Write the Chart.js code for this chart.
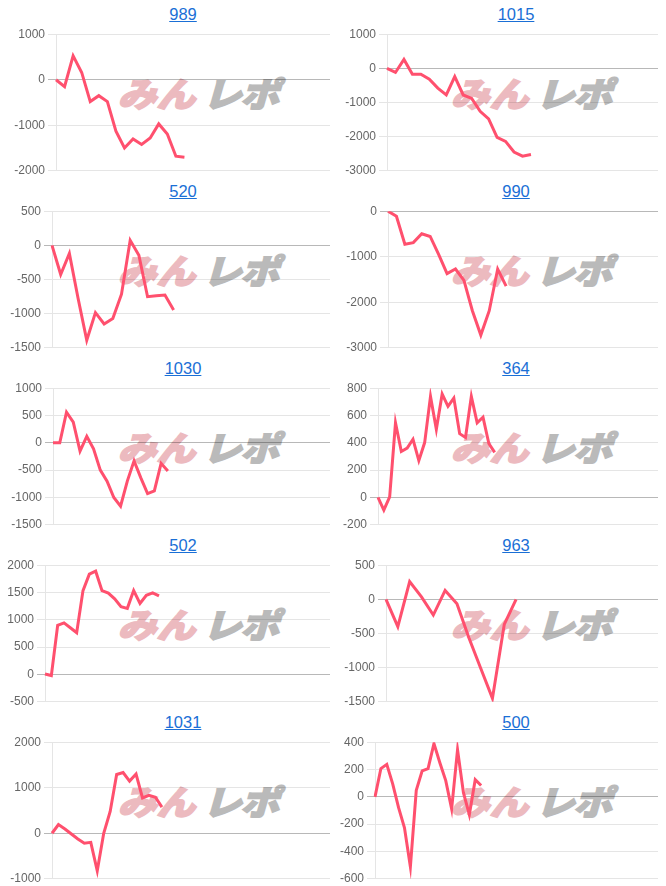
<!DOCTYPE html>
<html>
<head>
<meta charset="utf-8">
<script src="https://cdn.jsdelivr.net/npm/chart.js@4.4.0/dist/chart.umd.min.js"></script>
<style>
  html, body { margin: 0; padding: 0; background: #fff; }
  body { width: 666px; height: 886px; overflow: hidden; font-family: "Liberation Sans", Arial, sans-serif; }
  #grid { position: relative; width: 666px; height: 886px; }
  .cell { position: absolute; width: 333px; height: 177px; }
  .title { position: absolute; top: 0; left: 33px; width: 300px; height: 20px; line-height: 20px; text-align: center; font-size: 16.5px; }
  .title a { color: #1a6fd6; text-decoration: underline; }
  .cv { position: absolute; left: 0; top: 20px; width: 333px; height: 157px; z-index: 2; }
  .wm { position: absolute; top: 69px; font-family: "Noto Sans CJK JP", sans-serif; font-weight: 900; font-size: 34px; line-height: 40px; white-space: nowrap; pointer-events: none; transform: skewX(-16deg) scaleX(1.14); transform-origin: left bottom; z-index: 1; }
  .wm1 { left: 116px; color: rgb(236,186,191); -webkit-text-stroke: 1.6px rgb(236,186,191); }
  .wm2 { left: 201px; color: rgb(186,186,186); -webkit-text-stroke: 1.6px rgb(186,186,186); letter-spacing: -1px; }
</style>
</head>
<body>
<div id="grid"></div>
<script>
// ---- data ----
const titles = ["989", "1015", "520", "990", "1030", "364", "502", "963", "1031", "500"];

const s989  = [0, -150, 525, 160, -480, -350, -480, -1130, -1500, -1300, -1420, -1280, -970, -1190, -1680, -1700];
const s1015 = [0, -120, 260, -175, -175, -320, -580, -780, -240, -780, -880, -1260, -1480, -2020, -2140, -2450, -2570, -2520];
const s520  = [0, -427, -120, -775, -1390, -985, -1150, -1070, -715, 73, -145, -752, -738, -728, -947];
const s990  = [0, -110, -725, -690, -495, -555, -950, -1370, -1270, -1520, -2185, -2720, -2185, -1270, -1645];
const s1030 = [0, 0, 560, 380, -150, 120, -110, -500, -700, -1000, -1160, -700, -330, -640, -930, -880, -375, -515];
const s364  = [0, -92, 5, 547, 337, 361, 426, 270, 402, 740, 499, 757, 667, 728, 467, 439, 740, 547, 588, 395, 330];
const s502  = [10, -20, 900, 945, 855, 765, 1535, 1835, 1890, 1535, 1490, 1385, 1240, 1210, 1535, 1300, 1450, 1495, 1440];
const s963  = [0, -400, 260, 35, -230, 130, -63, -560, -1005, -1450, -367, 0];
const s1031 = [0, 190, 95, -15, -125, -220, -200, -825, 0, 480, 1290, 1335, 1145, 1300, 775, 835, 790, 575];
const s500  = [0, 207, 238, 95, -79, -226, -512, 48, 190, 207, 390, 250, 119, -88, 345, 31, -131, 126, 83];

const seriesList = [s989, s1015, s520, s990, s1030, s364, s502, s963, s1031, s500];

// number of x categories in each chart's period
const periodLengths = [33, 33, 33, 33, 42, 49, 46, 24, 44, 49];

// y-axis tick ranges
const yMins  = [-2000, -3000, -1500, -3000, -1500, -200, -500, -1500, -1000, -600];
const yMaxs  = [1000, 1000, 500, 0, 1000, 800, 2000, 500, 2000, 400];
const ySteps = [1000, 1000, 500, 1000, 500, 200, 500, 500, 1000, 200];

// ---- layout (not data) ----
const axisWidths = [56, 54, 52, 55, 53, 45, 45, 53, 52, 42];
const rowPitch = 177, firstTop = 4;

const grid = document.getElementById('grid');
titles.forEach((t, i) => {
  const col = i % 2, row = Math.floor(i / 2);
  const cell = document.createElement('div');
  cell.className = 'cell';
  cell.style.left = (col * 333) + 'px';
  cell.style.top = (firstTop + row * rowPitch) + 'px';
  cell.innerHTML =
    '<div class="title"><a href="#">' + t + '</a></div>' +
    '<span class="wm wm1">みん</span><span class="wm wm2">レポ</span>' +
    '<div class="cv"><canvas></canvas></div>';
  grid.appendChild(cell);

  const labels = Array.from({ length: periodLengths[i] }, (_, k) => String(k + 1));
  const axisW = axisWidths[i];
  new Chart(cell.querySelector('canvas'), {
    type: 'line',
    data: {
      labels: labels,
      datasets: [{
        data: seriesList[i],
        borderColor: 'rgb(255, 80, 110)',
        backgroundColor: 'rgba(255, 80, 110, 0.2)',
        borderWidth: 3,
        pointRadius: 0,
        pointHoverRadius: 0,
        tension: 0,
        fill: false
      }]
    },
    options: {
      responsive: true,
      maintainAspectRatio: false,
      animation: false,
      layout: { padding: { left: 0, right: col === 0 ? 3 : 8, top: 0, bottom: 0 } },
      plugins: { legend: { display: false }, tooltip: { enabled: false }, title: { display: false } },
      scales: {
        x: { display: false },
        y: {
          min: yMins[i],
          max: yMaxs[i],
          afterFit: (s) => { s.width = axisW; },
          ticks: {
            stepSize: ySteps[i],
            color: '#666',
            font: { family: '"Liberation Sans", Arial, sans-serif', size: 12 },
            padding: 3,
            callback: (v) => String(v)
          },
          grid: {
            color: (ctx) => (ctx.tick && ctx.tick.value === 0) ? 'rgba(0,0,0,0.28)' : 'rgba(0,0,0,0.1)',
            tickLength: 8
          },
          border: { color: 'rgba(0,0,0,0.1)' }
        }
      }
    }
  });
});
</script>
</body>
</html>
